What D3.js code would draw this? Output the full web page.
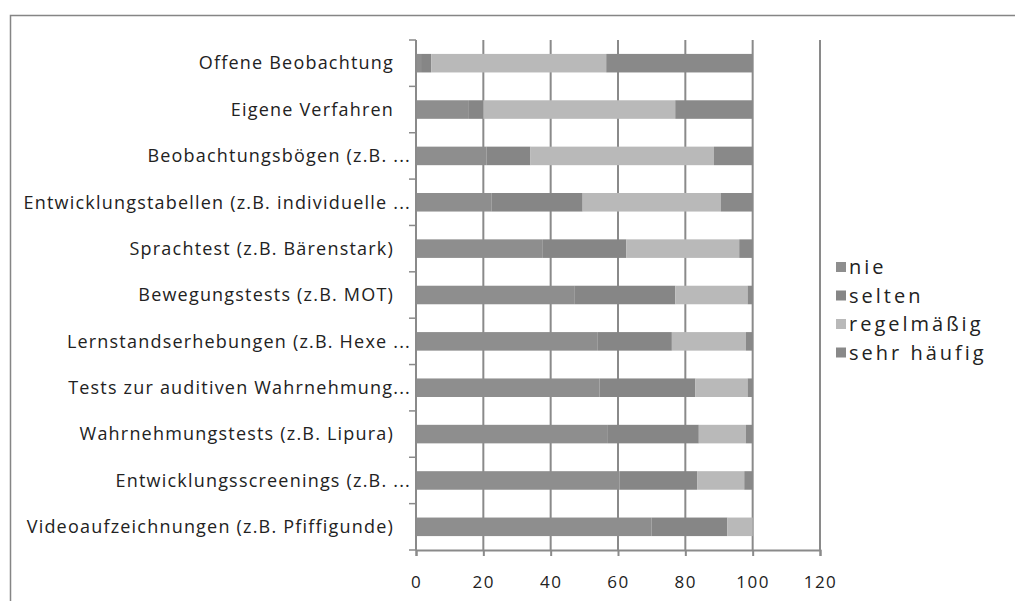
<!DOCTYPE html>
<html>
<head>
<meta charset="utf-8">
<script src="https://cdn.jsdelivr.net/npm/d3@7"></script>
<style>
  body { margin: 0; background: #fff; }
  text { font-family: "Open Sans", sans-serif; fill: #222; }
</style>
</head>
<body>
<div id="chart"></div>
<script>
const categories = [
  "Offene Beobachtung",
  "Eigene Verfahren",
  "Beobachtungsbögen (z.B. ...",
  "Entwicklungstabellen (z.B. individuelle ...",
  "Sprachtest (z.B. Bärenstark)",
  "Bewegungstests (z.B. MOT)",
  "Lernstandserhebungen (z.B. Hexe ...",
  "Tests zur auditiven Wahrnehmung...",
  "Wahrnehmungstests (z.B. Lipura)",
  "Entwicklungsscreenings (z.B. ...",
  "Videoaufzeichnungen (z.B. Pfiffigunde)"
];
const nie          = [1.5, 15.5, 21, 22.5, 37.5, 47, 54, 54.5, 57, 60.5, 70];
const selten       = [3, 4.5, 13, 27, 25, 30, 22, 28.5, 27, 23, 22.5];
const regelmaessig = [52, 57, 54.5, 41, 33.5, 21.5, 22, 15.5, 14, 14, 7.5];
const sehrHaeufig  = [43.5, 23, 11.5, 9.5, 4, 1.5, 2, 1.5, 2, 2.5, 0];
const seriesNames = ["nie", "selten", "regelmäßig", "sehr häufig"];
const seriesColors = ["#8e8e8e", "#868686", "#b9b9b9", "#898989"];
const xTicks = [0, 20, 40, 60, 80, 100, 120];

const W = 1015, H = 601;
const margin = {top: 40, right: 195, bottom: 51, left: 416};

const svg = d3.select("#chart").append("svg")
  .attr("width", W).attr("height", H);

svg.append("rect")
  .attr("x", 10.5).attr("y", 15.5)
  .attr("width", 1100).attr("height", 700)
  .attr("fill", "#fff").attr("stroke", "#858585").attr("stroke-width", 1.5);

const rows = categories.map((c, i) => ({
  cat: c, nie: nie[i], selten: selten[i],
  "regelmäßig": regelmaessig[i], "sehr häufig": sehrHaeufig[i]
}));

const x = d3.scaleLinear().domain([0, 120])
  .range([margin.left, W - margin.right]);
const y = d3.scaleBand().domain(categories)
  .range([margin.top, H - margin.bottom])
  .paddingInner(0.6).paddingOuter(0.3);
const color = d3.scaleOrdinal().domain(seriesNames).range(seriesColors);

// vertical gridlines
svg.append("g")
  .selectAll("line")
  .data(xTicks.slice(1))
  .join("line")
  .attr("x1", d => x(d)).attr("x2", d => x(d))
  .attr("y1", margin.top).attr("y2", H - margin.bottom)
  .attr("stroke", "#8a8a8a").attr("stroke-width", 2);

// bars
const stacked = d3.stack().keys(seriesNames)(rows);
svg.append("g")
  .selectAll("g")
  .data(stacked)
  .join("g")
  .attr("fill", d => color(d.key))
  .selectAll("rect")
  .data(d => d)
  .join("rect")
  .attr("x", d => x(d[0]))
  .attr("width", d => x(d[1]) - x(d[0]))
  .attr("y", d => y(d.data.cat))
  .attr("height", y.bandwidth());

// x axis
const xAxis = svg.append("g")
  .attr("transform", `translate(0,${H - margin.bottom})`)
  .call(d3.axisBottom(x).tickValues(xTicks).tickSize(6).tickPadding(20));
xAxis.select(".domain").attr("stroke", "#8a8a8a").attr("stroke-width", 2);
xAxis.selectAll(".tick line").attr("stroke", "#8a8a8a").attr("stroke-width", 2);
xAxis.selectAll(".tick text")
  .style("font-family", "'Open Sans', sans-serif")
  .style("font-size", "17px").style("letter-spacing", "1.5px")
  .attr("fill", "#222");

// y axis line and ticks at band boundaries
const yAxis = svg.append("g");
yAxis.append("line")
  .attr("x1", x(0)).attr("x2", x(0))
  .attr("y1", margin.top).attr("y2", H - margin.bottom)
  .attr("stroke", "#8a8a8a").attr("stroke-width", 2);
const step = y.step();
yAxis.selectAll("line.tk")
  .data(d3.range(categories.length + 1))
  .join("line").attr("class", "tk")
  .attr("x1", x(0) - 7).attr("x2", x(0))
  .attr("y1", i => margin.top + i * step)
  .attr("y2", i => margin.top + i * step)
  .attr("stroke", "#8a8a8a").attr("stroke-width", 1.5);
yAxis.selectAll("text")
  .data(categories)
  .join("text")
  .attr("x", d => d.endsWith("...") ? x(0) - 5 : x(0) - 22)
  .attr("y", d => y(d) + y.bandwidth() / 2)
  .attr("dy", "0.35em")
  .attr("text-anchor", "end")
  .style("font-size", "18px").style("letter-spacing", "1.2px")
  .text(d => d);

// legend
const legend = svg.append("g")
  .selectAll("g")
  .data(seriesNames)
  .join("g")
  .attr("transform", (d, i) => `translate(836,${267 + i * 28.5})`);
legend.append("rect")
  .attr("x", 0).attr("y", -5).attr("width", 10).attr("height", 10)
  .attr("fill", d => color(d));
legend.append("text")
  .attr("x", 13).attr("dy", "0.35em")
  .style("font-size", "20px").style("letter-spacing", "3px")
  .text(d => d);
</script>
</body>
</html>
